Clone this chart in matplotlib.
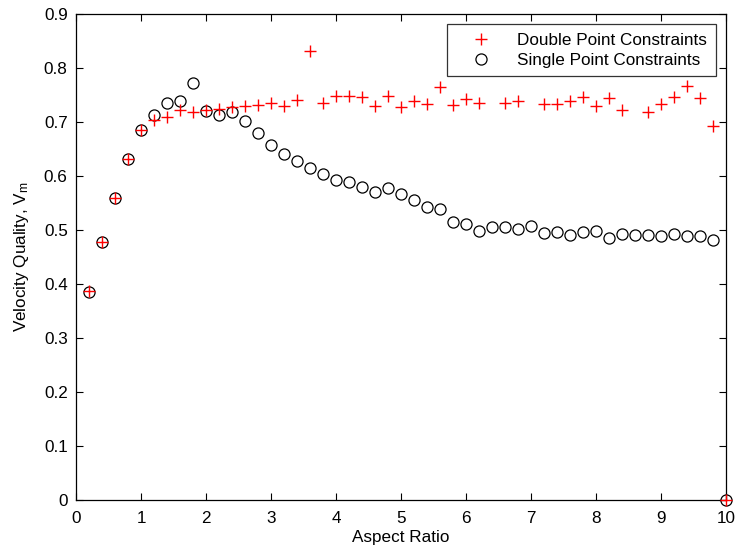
import numpy as np
import matplotlib
matplotlib.use("Agg")
import matplotlib.pyplot as plt

plt.rcParams['font.family'] = ['Liberation Sans', 'DejaVu Sans']
plt.rcParams['mathtext.fontset'] = 'custom'
plt.rcParams['mathtext.rm'] = 'Liberation Sans'
plt.rcParams['mathtext.it'] = 'Liberation Sans'

aspect_ratio = np.round(np.arange(1, 51) * 0.2, 1)

double_point = [0.387, 0.477, 0.559, 0.631, 0.685, 0.704, 0.710, 0.722, 0.718, 0.722,
                0.724, 0.727, 0.730, 0.732, 0.735, 0.730, 0.741, 0.832, 0.735, 0.749,
                0.749, 0.746, 0.729, 0.749, 0.727, 0.738, 0.733, 0.765, 0.732, 0.742,
                0.736, np.nan, 0.736, 0.739, np.nan, 0.733, 0.734, 0.739, 0.746, 0.730,
                0.744, 0.723, np.nan, 0.718, 0.733, 0.747, 0.767, 0.744, 0.693, 0.0]
single_point = [0.386, 0.478, 0.559, 0.631, 0.685, 0.713, 0.736, 0.738, 0.773, 0.720,
                0.713, 0.718, 0.702, 0.680, 0.658, 0.641, 0.628, 0.614, 0.604, 0.593,
                0.588, 0.579, 0.571, 0.577, 0.567, 0.556, 0.542, 0.539, 0.515, 0.511,
                0.499, 0.505, 0.505, 0.502, 0.507, 0.494, 0.496, 0.491, 0.497, 0.499,
                0.485, 0.493, 0.491, 0.491, 0.488, 0.493, 0.488, 0.488, 0.482, 0.0]

FS = 12.3

fig = plt.figure(figsize=(7.35, 5.52), dpi=100)
ax = fig.add_axes([76/735, 52/552, 650/735, 486/552])

ax.plot(aspect_ratio, double_point, linestyle='none', marker='+', color='red',
        markersize=9, markeredgewidth=1.0, label='Double Point Constraints', clip_on=False, zorder=3)
ax.plot(aspect_ratio, single_point, linestyle='none', marker='o', markerfacecolor='none',
        markeredgecolor='black', markersize=8, markeredgewidth=0.9,
        label='Single Point Constraints', clip_on=False, zorder=2)

ax.set_xlim(0, 10)
ax.set_ylim(0, 0.9)
ax.set_xticks(np.arange(0, 11, 1))
ax.set_yticks(np.round(np.arange(0, 0.91, 0.1), 1))
ax.set_yticklabels(['0', '0.1', '0.2', '0.3', '0.4', '0.5', '0.6', '0.7', '0.8', '0.9'])
ax.tick_params(direction='in', top=True, right=True, length=5, width=0.8,
               labelsize=FS)
ax.tick_params(axis='x', pad=8)
ax.tick_params(axis='y', pad=6)
for s in ax.spines.values():
    s.set_linewidth(0.9)

ax.set_xlabel('Aspect Ratio', fontsize=FS, labelpad=3)
ax.set_ylabel('Velocity Quality, V$_\\mathregular{m}$', fontsize=FS, labelpad=9)

leg = ax.legend(loc='upper right', fontsize=FS, frameon=True, fancybox=False,
                edgecolor='black', borderaxespad=0.6, handletextpad=0.6,
                borderpad=0.5, labelspacing=0.3, handlelength=3.0)
leg.get_frame().set_linewidth(0.9)

fig.savefig('out.png', dpi=100)
